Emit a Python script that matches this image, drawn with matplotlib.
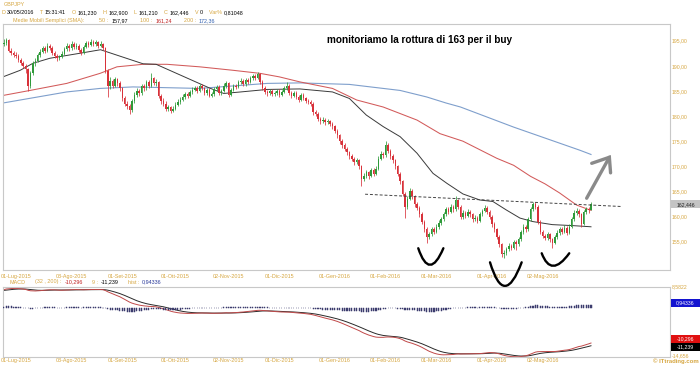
"""GBPJPY giornaliero con SMA 50/100/200 e MACD(32,200,9) - ricostruzione del grafico ITtrading."""

import matplotlib

matplotlib.use("Agg")
import matplotlib.pyplot as plt
import numpy as np
import pandas as pd
from matplotlib.patches import PathPatch, Rectangle
from matplotlib.path import Path

W_PX, H_PX = 700, 365
DPI = 100

GOLD = "#d6a640"
GREEN = "#2f9a3a"
RED = "#d8323a"
FRAME = "#c8c8c8"

plt.rcParams["font.family"] = ["Liberation Sans", "DejaVu Sans"]

# --- dati -----------------------------------------------------------------
first_day, last_day = "2015-06-24", "2016-05-30"
first_open = 194.3

closes = [
    194.5, 195.2, 193.0, 192.6, 192.2,
    192.0, 191.2, 190.6, 190.0, 189.3, 186.0, 188.5, 190.5, 191.0, 192.2,
    192.8, 193.5, 193.0, 194.0, 193.6, 192.5, 192.0, 191.5, 191.8, 192.4,
    193.4, 194.0, 193.5, 194.4, 193.8, 194.0, 193.2, 192.6, 193.8, 194.5,
    194.2, 194.8, 194.3, 194.7, 194.0, 194.4, 193.5, 189.0, 186.0, 187.0,
    186.0, 187.3, 186.5, 185.5, 183.5, 182.5, 182.0, 181.2, 183.0, 184.2,
    185.0, 184.5, 186.0, 185.5, 186.8, 186.0, 187.5, 186.5, 186.8, 184.0,
    183.0, 182.5, 181.5, 181.8, 181.0, 181.5, 182.3, 182.8, 183.2, 183.8,
    184.3, 184.0, 184.8, 185.2, 185.5, 185.0, 186.0, 185.5, 184.5, 185.2,
    184.0, 184.3, 185.3, 185.8, 184.5, 185.0, 186.0, 186.5, 184.2, 185.2,
    186.0, 185.8, 186.7, 187.0, 186.3, 187.2, 186.8, 187.5, 188.0, 187.6,
    188.3, 186.8, 185.5, 184.8, 184.5, 185.0, 184.3, 184.5, 185.0, 184.2,
    184.8, 185.5, 186.0, 184.5, 184.0, 184.6, 183.8, 183.2, 184.2, 183.5,
    183.0, 182.8, 182.5, 180.8, 180.5, 179.5, 179.0, 179.3, 178.8, 179.0,
    178.5, 178.0, 177.0, 176.2, 175.0, 174.2, 173.5, 172.8, 172.0, 171.5,
    170.8, 171.2, 170.0, 167.5, 168.0, 168.8, 168.0, 169.2, 168.5, 169.5,
    171.5, 172.5, 172.2, 174.2, 173.0, 172.0, 171.2, 170.0, 168.5, 167.0,
    164.5, 162.0, 163.5, 165.0, 164.0, 162.5, 161.8, 160.5, 159.0, 157.5,
    156.0, 156.5, 157.5, 157.0, 158.0, 158.8, 159.5, 160.5, 161.5, 161.0,
    162.0, 161.5, 163.2, 162.0, 160.0, 160.8, 160.2, 161.0, 160.5, 159.5,
    159.8, 159.2, 160.5, 161.2, 161.8, 161.0, 160.0, 158.5, 157.5, 156.0,
    154.5, 152.5, 152.8, 153.5, 154.2, 153.8, 155.0, 154.5, 155.5, 157.0,
    158.0, 157.5, 159.5, 161.5, 162.5, 162.0, 159.0, 157.0, 156.2, 155.8,
    156.5, 155.5, 154.8, 156.0, 156.8, 157.5, 157.0, 157.8, 156.8, 158.0,
    159.5, 160.8, 161.2, 160.5, 158.5, 161.0, 161.5, 161.23, 162.446,
]
highs = [
    195.4, 195.6, 195.4, 193.5, 193.0,
    192.7, 192.3, 191.6, 190.9, 190.4, 189.6, 188.9, 190.9, 191.6, 192.6,
    193.3, 194.0, 193.9, 194.5, 194.4, 193.9, 192.9, 192.4, 192.2, 192.9,
    193.8, 194.6, 194.3, 194.9, 194.7, 194.5, 194.3, 193.5, 194.2, 195.0,
    194.9, 195.3, 195.1, 195.2, 195.0, 194.9, 194.6, 193.8, 189.4, 187.7,
    187.4, 187.8, 187.6, 186.9, 185.8, 184.0, 183.0, 182.4, 183.4, 184.7,
    185.5, 185.4, 186.4, 186.4, 187.2, 187.1, 188.5, 187.8, 187.3, 187.0,
    184.4, 183.5, 182.9, 182.3, 182.0, 182.0, 182.8, 183.3, 183.7, 184.3,
    184.8, 184.7, 185.2, 185.7, 186.0, 185.9, 186.4, 186.3, 185.8, 185.6,
    185.5, 184.8, 185.7, 186.2, 186.1, 185.4, 186.5, 187.0, 186.8, 185.6,
    186.4, 186.4, 187.1, 187.5, 187.3, 187.6, 187.5, 187.9, 188.4, 188.3,
    188.8, 188.5, 187.1, 185.9, 185.2, 185.4, 185.3, 184.9, 185.4, 185.3,
    185.2, 185.9, 186.7, 186.3, 184.9, 185.0, 184.9, 184.1, 184.6, 184.5,
    183.8, 183.4, 183.1, 182.7, 181.2, 180.9, 179.9, 179.8, 179.6, 179.5,
    179.3, 178.9, 178.3, 177.4, 176.5, 175.4, 174.6, 173.9, 173.1, 172.4,
    171.9, 171.7, 171.5, 170.3, 168.6, 169.3, 169.1, 169.7, 169.6, 170.0,
    172.0, 173.0, 172.9, 175.0, 174.6, 173.4, 172.4, 171.5, 170.3, 168.9,
    167.3, 164.8, 164.0, 165.7, 165.4, 164.3, 162.9, 162.1, 160.9, 159.4,
    157.9, 157.0, 158.0, 157.9, 158.5, 159.3, 160.0, 161.0, 162.0, 161.9,
    162.5, 162.4, 164.0, 163.5, 162.3, 161.3, 161.2, 161.5, 161.4, 160.8,
    160.3, 160.1, 160.9, 161.6, 162.3, 162.1, 161.3, 160.3, 158.9, 157.8,
    156.3, 154.8, 153.4, 154.0, 154.7, 154.6, 155.4, 155.3, 156.0, 157.4,
    158.5, 158.4, 160.0, 162.0, 163.0, 162.9, 162.3, 159.3, 157.4, 156.6,
    157.0, 156.8, 155.8, 156.4, 157.3, 158.0, 157.9, 158.3, 158.1, 158.5,
    160.0, 161.3, 161.7, 161.5, 160.8, 161.4, 162.0, 161.9, 162.9,
]
lows = [
    193.9, 194.2, 192.7, 192.1, 191.8,
    191.5, 190.8, 190.1, 189.5, 188.6, 185.0, 185.6, 188.2, 190.0, 190.7,
    191.8, 192.5, 192.6, 192.8, 193.1, 192.1, 191.5, 191.0, 191.1, 191.5,
    192.1, 193.0, 193.0, 193.2, 193.4, 193.4, 192.8, 192.2, 192.4, 193.5,
    193.8, 193.9, 193.9, 194.0, 193.6, 193.7, 193.1, 188.6, 183.8, 185.4,
    185.5, 185.7, 186.0, 185.0, 183.0, 182.0, 181.4, 180.4, 180.9, 182.6,
    183.8, 184.0, 184.2, 185.0, 185.2, 185.6, 185.8, 186.1, 186.0, 183.6,
    182.5, 182.0, 181.1, 181.0, 180.6, 180.8, 181.2, 182.0, 182.4, 182.9,
    183.4, 183.6, 183.7, 184.4, 184.9, 184.6, 184.7, 185.1, 184.1, 184.2,
    183.7, 183.7, 184.0, 185.0, 184.1, 184.1, 184.8, 185.6, 183.7, 183.9,
    184.9, 185.4, 185.5, 186.3, 185.9, 186.0, 186.4, 186.5, 187.1, 187.2,
    187.3, 186.4, 185.1, 184.4, 184.0, 184.2, 183.9, 183.9, 184.2, 183.8,
    183.9, 184.5, 185.2, 184.1, 183.5, 183.7, 183.4, 182.8, 183.0, 183.1,
    182.6, 182.4, 182.0, 180.3, 180.0, 179.0, 178.5, 178.6, 178.3, 178.4,
    178.0, 177.5, 176.6, 175.7, 174.5, 173.7, 173.0, 172.3, 171.5, 171.0,
    170.3, 170.4, 169.5, 166.0, 167.0, 167.6, 167.5, 167.8, 168.0, 168.2,
    169.2, 171.2, 171.6, 171.9, 172.6, 171.5, 170.7, 169.5, 168.0, 166.5,
    164.0, 159.7, 161.6, 163.2, 163.5, 162.0, 161.3, 160.0, 158.5, 157.0,
    154.8, 155.5, 156.1, 156.5, 156.7, 157.6, 158.4, 159.1, 160.1, 160.5,
    160.7, 161.0, 161.2, 161.5, 159.5, 159.6, 159.8, 159.9, 160.0, 159.0,
    159.1, 158.7, 158.9, 160.2, 160.9, 160.6, 159.5, 158.0, 157.0, 155.5,
    154.0, 152.0, 151.8, 152.4, 153.1, 153.3, 153.5, 153.4, 154.2, 155.2,
    156.6, 157.0, 157.2, 159.2, 161.2, 161.5, 158.6, 156.5, 155.7, 155.3,
    155.4, 155.0, 153.8, 154.5, 155.6, 156.4, 156.6, 156.7, 156.4, 156.5,
    157.7, 159.2, 160.4, 160.0, 158.0, 158.3, 160.6, 160.8, 161.21,
]

# medie mobili: (giorno di borsa dal primo candle, valore)
sma50_day = [-0.4, 6.7, 12, 19, 31.5, 40, 57.6, 63, 85, 91, 98, 109, 122.5, 136, 143,
             150, 157, 164, 171, 177.6, 183.4, 190, 197, 202.4, 208, 213.6, 219, 227, 235.5, 243]
sma50_val = [187.8, 189.1, 190.5, 191.5, 192.5, 193.2, 190.4, 190.3, 185.6, 184.5, 184.8, 185.3, 185.4, 184.8, 183.5,
             180.2, 177.9, 175.9, 172.6, 168.6, 166.6, 164.5, 163.3, 163.0, 161.3, 159.7, 159.0, 158.4, 158.2, 157.97]
sma100_day = [-0.4, 10.8, 26, 39.8, 46.8, 57.6, 67.5, 81, 95, 106, 114, 122.5, 136,
              146, 157, 171, 180.5, 190, 197, 204, 211, 218, 224, 230, 237, 243]
sma100_val = [184.1, 185.1, 186.5, 188.5, 189.8, 190.3, 190.3, 189.8, 189.1, 188.5, 187.8, 186.8, 185.5,
              183.2, 181.8, 179.2, 176.5, 175.0, 173.3, 171.6, 170.2, 168.0, 166.5, 164.7, 162.3, 161.24]
sma200_day = [-0.4, 26, 39.8, 53.4, 81, 109, 122.5, 143, 164, 175, 183, 189, 211, 238.4, 243]
sma200_val = [182.6, 184.8, 185.5, 185.8, 185.5, 186.5, 186.6, 186.3, 185.1, 183.8, 182.6, 181.8, 177.8, 173.2, 172.36]

# stato iniziale delle medie esponenziali del MACD (stimato dal pannello)
ema_fast_seed, ema_slow_seed, signal_seed = 189.0, 181.5, 7.4
macd_top, macd_bottom = 8.5822, -14.656
macd_last, signal_last, hist_last = -10.296, -11.239, 0.94336

tick_dates = ["2015-07-01", "2015-08-03", "2015-09-01", "2015-10-01", "2015-11-02", "2015-12-01",
              "2016-01-01", "2016-02-01", "2016-03-01", "2016-04-01", "2016-05-02"]
tick_labels = ["01-Lug-2015", "03-Ago-2015", "01-Set-2015", "01-Ott-2015", "02-Nov-2015", "01-Dic-2015",
               "01-Gen-2016", "01-Feb-2016", "01-Mar-2016", "01-Apr-2016", "02-Mag-2016"]
price_ticks = [155, 160, 165, 170, 175, 180, 185, 190, 195]

# annotazioni a mano dell'autore (coordinate giorno / prezzo)
neckline = ([149.5, 255.8], [164.45, 162.0])
arrow_shaft = ([241.2, 250.6], [163.65, 171.8])
arrow_head = ([243.3, 250.6, 251.1], [170.6, 171.8, 168.7])
v_marks = [
    [(171.5, 153.7), (176.4, 150.4), (181.9, 153.7)],
    [(201.2, 150.9), (207.4, 146.2), (214.3, 150.9)],
    [(222.6, 152.7), (227.4, 150.2), (234.0, 152.7)],
]


def fig_xy(x_px, y_px):
    return x_px / W_PX, 1 - y_px / H_PX


def draw_runs(fig, x_px, y_px, runs, size, weight="normal"):
    """Scrive pezzi di testo colorati uno dopo l'altro sulla stessa riga."""
    renderer = fig.canvas.get_renderer()
    x = x_px
    for text, color in runs:
        t = fig.text(*fig_xy(x, y_px), text, color=color, fontsize=size,
                     va="center", ha="left", weight=weight)
        x += t.get_window_extent(renderer=renderer).width


def value_tag(fig, ax, value, text, face, fg, dy_px=0.0, h_px=8.0):
    y_disp = ax.transData.transform((0, value))[1]
    y_px = H_PX - y_disp + dy_px
    fig.patches.append(Rectangle(fig_xy(671, y_px + h_px / 2), 29 / W_PX, h_px / H_PX,
                                 transform=fig.transFigure, facecolor=face, edgecolor="none"))
    fig.text(*fig_xy(685.5, y_px), text, color=fg, fontsize=3.7, ha="center", va="center")


days = pd.bdate_range(first_day, last_day)
x = np.arange(len(days))
c = np.array(closes)
o = pd.Series(closes).shift(1).fillna(first_open).to_numpy()
hi = np.array(highs)
lo = np.array(lows)

close_s = pd.Series(closes)
ema_fast = pd.concat([pd.Series([ema_fast_seed]), close_s], ignore_index=True).ewm(span=32, adjust=False).mean().iloc[1:]
ema_slow = pd.concat([pd.Series([ema_slow_seed]), close_s], ignore_index=True).ewm(span=200, adjust=False).mean().iloc[1:]
macd = (ema_fast - ema_slow).reset_index(drop=True)
signal = pd.concat([pd.Series([signal_seed]), macd], ignore_index=True).ewm(span=9, adjust=False).mean().iloc[1:].reset_index(drop=True)
hist = macd - signal

tick_pos = [days.get_loc(pd.Timestamp(d)) for d in tick_dates]

fig = plt.figure(figsize=(W_PX / DPI, H_PX / DPI), dpi=DPI)
ax = fig.add_axes([3 / W_PX, 1 - 270 / H_PX, 667 / W_PX, 246 / H_PX])
ax_m = fig.add_axes([3 / W_PX, 1 - 357 / H_PX, 667 / W_PX, 70 / H_PX], sharex=ax)

# --- pannello prezzi ---
colors = np.where(c >= o, GREEN, RED)
ax.vlines(x, lo, hi, colors=colors, lw=0.55, zorder=3)
ax.bar(x, np.abs(c - o), bottom=np.minimum(o, c), width=0.62, color=colors, lw=0, zorder=3)

ax.plot(sma200_day, sma200_val, color="#7f9fcc", lw=0.8, zorder=2)
ax.plot(sma100_day, sma100_val, color="#d25a5a", lw=0.75, zorder=2)
ax.plot(sma50_day, sma50_val, color="#3a3a3a", lw=0.7, zorder=2)

ax.plot(*neckline, color="#444444", lw=0.7, ls=(0, (3, 2)), zorder=4)
ax.plot(*arrow_shaft, color="#8a8a8a", lw=2.4, solid_capstyle="round", zorder=5)
ax.plot(*arrow_head, color="#8a8a8a", lw=2.4, solid_capstyle="round", solid_joinstyle="miter", zorder=5)
for p0, pb, p2 in v_marks:
    ctrl = (2 * pb[0] - 0.5 * (p0[0] + p2[0]), 2 * pb[1] - 0.5 * (p0[1] + p2[1]))
    path = Path([p0, ctrl, p2], [Path.MOVETO, Path.CURVE3, Path.CURVE3])
    ax.add_patch(PathPatch(path, facecolor="none", edgecolor="black", lw=1.7,
                           capstyle="round", clip_on=False, zorder=6))

ax.set_xlim(-0.38, 275.7)
ax.set_ylim(149.37, 198.32)
ax.yaxis.tick_right()
ax.set_yticks(price_ticks)
ax.set_yticklabels([f"{v:.2f}".replace(".", ",") for v in price_ticks])
ax.tick_params(axis="y", length=0, pad=1.5, labelsize=3.7, labelcolor=GOLD)
ax.set_xticks(tick_pos)
ax.set_xticklabels(tick_labels)
ax.tick_params(axis="x", length=0, pad=2.6, labelsize=3.9, labelcolor=GOLD)

# --- pannello MACD ---
ax_m.plot(x, signal, color="#2a2a2a", lw=0.7)
ax_m.plot(x, macd, color="#c04848", lw=0.7)
ax_m.set_ylim(macd_bottom, macd_top)
ax_m.set_yticks([])
ax_m.tick_params(axis="x", length=0, pad=1.0, labelsize=3.9, labelcolor=GOLD)

span = macd_top - macd_bottom
ax_h = ax_m.twinx()
ax_h.bar(x, hist, width=0.45, color="#3c3c6e", edgecolor="#3c3c6e", lw=0.35)
ax_h.set_ylim(-0.707 * span, 0.293 * span)
ax_h.set_yticks([])
ax_h.axis("off")

for a in (ax, ax_m):
    for s in a.spines.values():
        s.set_color(FRAME)
        s.set_linewidth(0.8)

# --- testi ---
fig.canvas.draw()
fig.text(*fig_xy(4, 4.5), "GBPJPY", color=GOLD, fontsize=3.9, va="center")
draw_runs(fig, 1.5, 12.7, [
    ("D ", GOLD), ("30/05/2016", "black"), ("    T ", GOLD), ("15:31:41", "black"),
    ("    O ", GOLD), ("161,230", "black"), ("    H ", GOLD), ("162,900", "black"),
    ("    L ", GOLD), ("161,210", "black"), ("    C ", GOLD), ("162,446", "black"),
    ("    V ", GOLD), ("0", "black"), ("    Var% ", GOLD), ("0,81048", "black"),
], 3.9)
draw_runs(fig, 13, 20.5, [
    ("Medie Mobili Semplici (SMA):", GOLD), ("          50 :  ", GOLD), ("157,97", "black"),
    ("        100 :  ", GOLD), ("161,24", "#c02020"), ("        200 :  ", GOLD), ("172,36", "#3060b0"),
], 3.9)
draw_runs(fig, 10, 282, [
    ("MACD", GOLD), ("      (32 , 200) :  ", GOLD), ("-10,296", "#c02020"),
    ("      9 :  ", GOLD), ("-11,239", "black"), ("      hist :  ", GOLD), ("0,94336", "#2a3a9a"),
], 3.9)

fig.text(*fig_xy(420, 40), "monitoriamo la rottura di 163 per il buy",
         fontsize=7.2, weight="bold", ha="center", va="center", color="black")

value_tag(fig, ax, closes[-1], "162,446", "#c4c4c4", "#202020")
value_tag(fig, ax_h, hist_last, "0,94336", "#1414d0", "white", dy_px=-2)
value_tag(fig, ax_m, signal_last, "-11,239", "black", "white")
value_tag(fig, ax_m, signal_last, "-10,296", "#e01010", "white", dy_px=-8)
fig.text(*fig_xy(672, 287), "8,5822", color=GOLD, fontsize=3.7, va="center")
fig.text(*fig_xy(672, 356), "-14,656", color=GOLD, fontsize=3.7, va="center")
fig.text(*fig_xy(699, 361), "\u00a9 ITtrading.com", color=GOLD, fontsize=4.3,
         weight="bold", ha="right", va="center")

fig.savefig("out.png", dpi=DPI)
